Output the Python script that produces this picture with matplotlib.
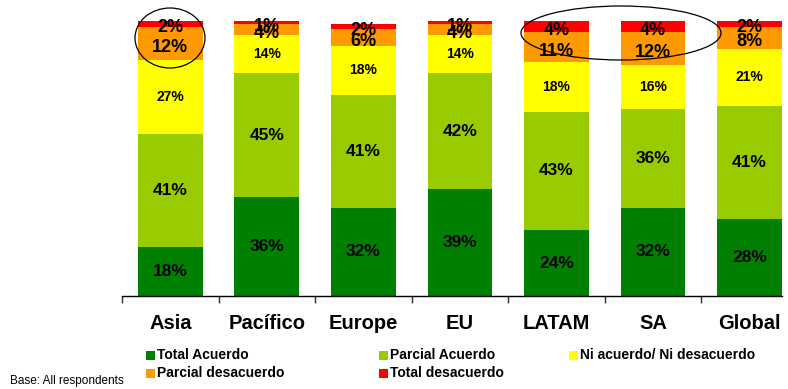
import matplotlib
matplotlib.use("Agg")
import matplotlib.pyplot as plt
from matplotlib.patches import Ellipse, Rectangle
import numpy as np

plt.rcParams['font.family'] = ['Liberation Sans', 'DejaVu Sans']

regions = ['Asia', 'Pacífico', 'Europe', 'EU', 'LATAM', 'SA', 'Global']

series_names = ['Total Acuerdo', 'Parcial Acuerdo', 'Ni acuerdo/ Ni desacuerdo',
                'Parcial desacuerdo', 'Total desacuerdo']
series_colors = ['#008000', '#99CC00', '#FFFF00', '#FF9900', '#FF0000']

total_acuerdo = [18, 36, 32, 39, 24, 32, 28]
parcial_acuerdo = [41, 45, 41, 42, 43, 36, 41]
ni_acuerdo = [27, 14, 18, 14, 18, 16, 21]
parcial_desacuerdo = [12, 4, 6, 4, 11, 12, 8]
total_desacuerdo = [2, 1, 2, 1, 4, 4, 2]

series = [total_acuerdo, parcial_acuerdo, ni_acuerdo, parcial_desacuerdo, total_desacuerdo]
label_sizes = [12.5, 12.5, 10, 13, 13]
# thin segments at the top get their labels nudged down a little
label_shift = [0, 0, 0, -1.5, -1.5]

fig = plt.figure(figsize=(7.88, 3.89), dpi=100)
W, H = 788, 389
ax = fig.add_axes([122 / W, (H - 296) / H, 660 / W, 275 / H])

x = np.arange(len(regions))
bar_w = 0.67
bottom = np.zeros(len(regions))
for vals, color, fs, dy in zip(series, series_colors, label_sizes, label_shift):
    vals = np.array(vals, dtype=float)
    ax.bar(x, vals, bar_w, bottom=bottom, color=color, edgecolor='none')
    for xi, b, v in zip(x, bottom, vals):
        ax.text(xi, b + v / 2 + dy, f'{int(v)}%', ha='center', va='center',
                fontsize=fs, fontweight='bold', color='black')
    bottom += vals

ax.set_xlim(-0.5, len(regions) - 1 + bar_w / 2)
ax.set_ylim(0, 100)
for side in ['top', 'right', 'left']:
    ax.spines[side].set_visible(False)
ax.spines['bottom'].set_linewidth(1.0)
ax.set_yticks([])
ax.set_xticks(np.arange(len(regions)) - 0.5)
ax.set_xticklabels([])
ax.tick_params(axis='x', direction='out', length=5, width=1, color='#303030')

for xi, name in zip(x, regions):
    ax.text(xi, -10, name, ha='center', va='center', fontsize=14.5,
            fontweight='bold', clip_on=False)


def px(xp, yp):
    return xp / W, 1 - yp / H


# highlight rings around the top segments
for cx, cy, ew, eh in [(170, 38, 70, 60), (621, 33, 200, 54)]:
    fig.patches.append(Ellipse(px(cx, cy), ew / W, eh / H, transform=fig.transFigure,
                               fill=False, edgecolor='black', linewidth=0.9))

# legend laid out in three columns
legend_pos = [(150, 355), (383, 355), (573, 355), (150, 373), (383, 373)]
for (lx, ly), name, color in zip(legend_pos, series_names, series_colors):
    sq = 9
    fig.patches.append(Rectangle(px(lx - sq / 2, ly + sq / 2), sq / W, sq / H,
                                 transform=fig.transFigure, facecolor=color,
                                 edgecolor='none'))
    fig.text(*px(lx + 7, ly), name, ha='left', va='center', fontsize=10,
             fontweight='bold')

fig.text(*px(10, 381), 'Base: All respondents', ha='left', va='center', fontsize=8.5)

fig.savefig('out.png', dpi=100)
